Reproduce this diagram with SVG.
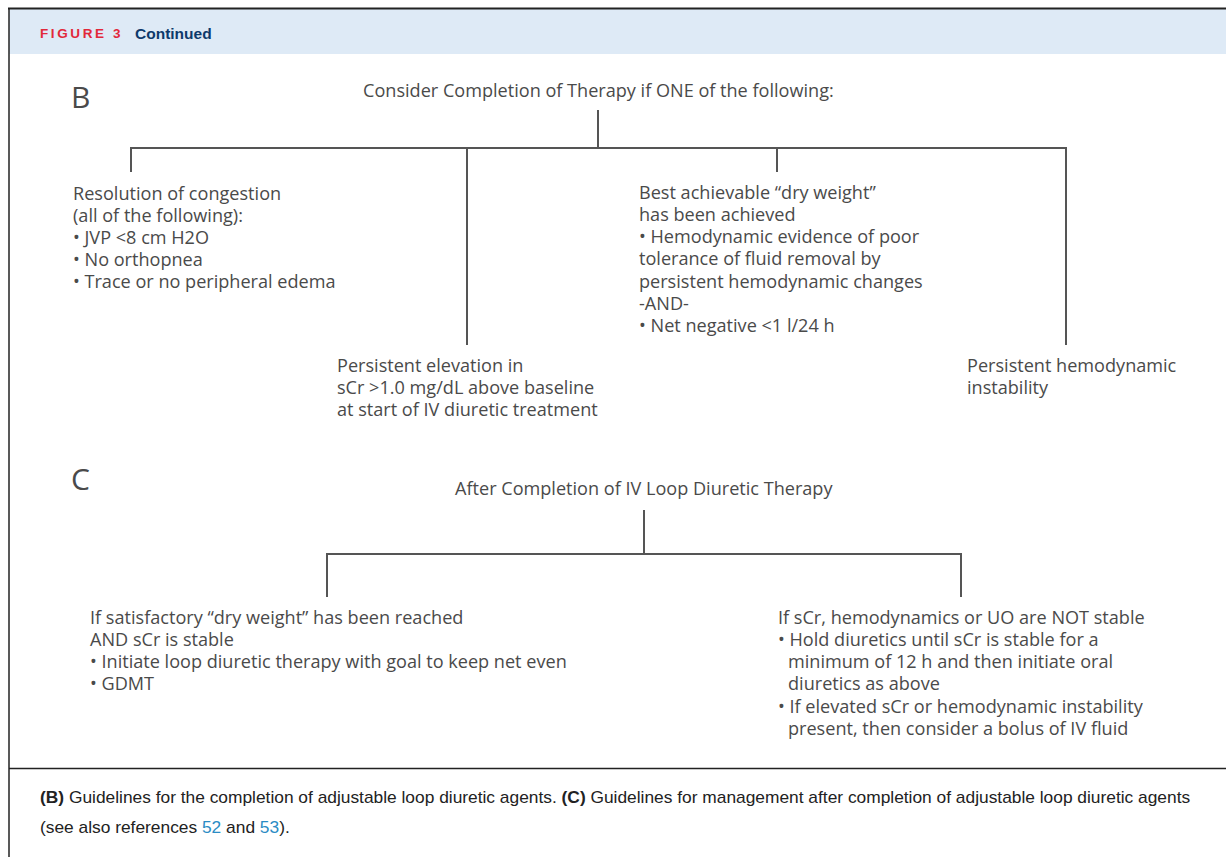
<svg xmlns="http://www.w3.org/2000/svg" width="1226" height="857" viewBox="0 0 1226 857">
<style>
.t{font-family:"Open Sans","Liberation Sans",Arial,sans-serif;font-size:18.1px;fill:#4a4a4a}
.big{font-family:"Open Sans","Liberation Sans",Arial,sans-serif;font-size:30px;fill:#4a4a4a}
.cap{font-family:"Liberation Sans",Arial,sans-serif;font-size:17.35px;fill:#222}
.ln{stroke:#555;stroke-width:2;fill:none}
</style>
<rect x="0" y="0" width="1226" height="857" fill="#fff"/>
<rect x="9" y="9" width="1217" height="45" fill="#deeaf6"/>
<line x1="8" y1="8.5" x2="1226" y2="8.5" stroke="#222" stroke-width="2"/>
<line x1="9" y1="8" x2="9" y2="857" stroke="#222" stroke-width="1.5"/>
<line x1="9" y1="768.5" x2="1226" y2="768.5" stroke="#222" stroke-width="1.5"/>
<g id="header">
<text x="40" y="38" font-family="Liberation Sans,Arial,sans-serif" font-size="13.5" font-weight="bold" fill="#e2283a" letter-spacing="2.6">FIGURE 3</text>
<text x="135" y="39" font-family="Liberation Sans,Arial,sans-serif" font-size="15.5" font-weight="bold" fill="#0d3a6b">Continued</text>
</g>
<g id="connectors">
<path class="ln" d="M598 110V148M131 172V148H1066V345M467 148V345M777 148V172"/>
<path class="ln" d="M644 510V554M327 597V554H961V597"/>
</g>
<g id="labelB"><text class="big" x="71" y="108">B</text></g>
<g id="rootB"><text class="t" x="363" y="97">Consider Completion of Therapy if ONE of the following:</text></g>
<g id="nodeB1"><text class="t">
<tspan x="73" y="200">Resolution of congestion</tspan>
<tspan x="73" y="222">(all of the following):</tspan>
<tspan x="73" y="244">• JVP &lt;8 cm H2O</tspan>
<tspan x="73" y="266">• No orthopnea</tspan>
<tspan x="73" y="288">• Trace or no peripheral edema</tspan>
</text></g>
<g id="nodeB2"><text class="t">
<tspan x="337" y="372">Persistent elevation in</tspan>
<tspan x="337" y="394">sCr &gt;1.0 mg/dL above baseline</tspan>
<tspan x="337" y="416">at start of IV diuretic treatment</tspan>
</text></g>
<g id="nodeB3"><text class="t">
<tspan x="639" y="199">Best achievable “dry weight”</tspan>
<tspan x="639" y="221">has been achieved</tspan>
<tspan x="639" y="243">• Hemodynamic evidence of poor</tspan>
<tspan x="639" y="265">tolerance of fluid removal by</tspan>
<tspan x="639" y="288">persistent hemodynamic changes</tspan>
<tspan x="639" y="310">-AND-</tspan>
<tspan x="639" y="332">• Net negative &lt;1 l/24 h</tspan>
</text></g>
<g id="nodeB4"><text class="t">
<tspan x="967" y="372">Persistent hemodynamic</tspan>
<tspan x="967" y="394">instability</tspan>
</text></g>
<g id="labelC"><text class="big" x="71" y="490">C</text></g>
<g id="rootC"><text class="t" x="455" y="495">After Completion of IV Loop Diuretic Therapy</text></g>
<g id="nodeC1"><text class="t">
<tspan x="90" y="624">If satisfactory “dry weight” has been reached</tspan>
<tspan x="90" y="646">AND sCr is stable</tspan>
<tspan x="90" y="668">• Initiate loop diuretic therapy with goal to keep net even</tspan>
<tspan x="90" y="690">• GDMT</tspan>
</text></g>
<g id="nodeC2"><text class="t">
<tspan x="778" y="624">If sCr, hemodynamics or UO are NOT stable</tspan>
<tspan x="778" y="646">• Hold diuretics until sCr is stable for a</tspan>
<tspan x="788" y="668">minimum of 12 h and then initiate oral</tspan>
<tspan x="788" y="690">diuretics as above</tspan>
<tspan x="778" y="713">• If elevated sCr or hemodynamic instability</tspan>
<tspan x="788" y="735">present, then consider a bolus of IV fluid</tspan>
</text></g>
<g id="caption"><text class="cap">
<tspan x="40" y="803"><tspan font-weight="bold">(B)</tspan> Guidelines for the completion of adjustable loop diuretic agents. <tspan font-weight="bold">(C)</tspan> Guidelines for management after completion of adjustable loop diuretic agents</tspan>
<tspan x="40" y="833">(see also references <tspan fill="#2b8cc4">52</tspan> and <tspan fill="#2b8cc4">53</tspan>).</tspan>
</text></g>
</svg>
